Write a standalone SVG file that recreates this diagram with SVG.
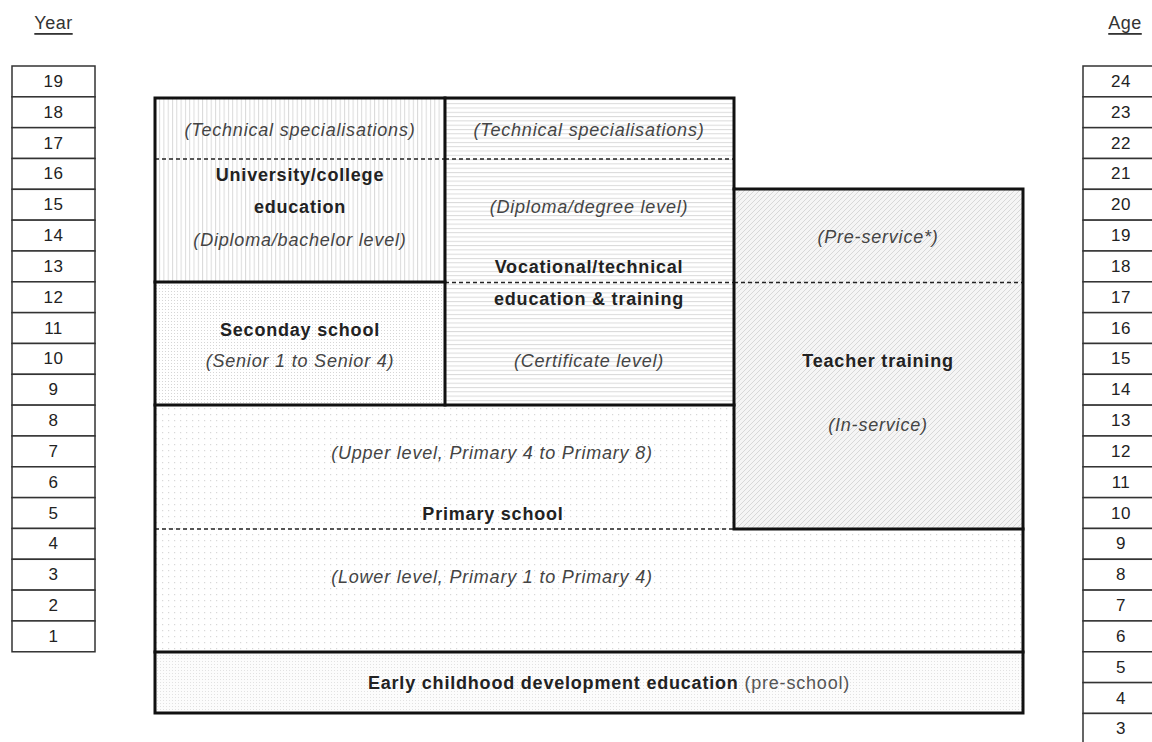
<svg xmlns="http://www.w3.org/2000/svg" width="1152" height="742" viewBox="0 0 1152 742">
<defs>
<pattern id="vl" width="4.3" height="4" patternUnits="userSpaceOnUse"><rect width="4.3" height="4" fill="#fff"/><line x1="0.5" y1="0" x2="0.5" y2="4" stroke="#dadada" stroke-width="1"/></pattern>
<pattern id="hl" width="4" height="4.3" patternUnits="userSpaceOnUse"><rect width="4" height="4.3" fill="#fff"/><line x1="0" y1="0.5" x2="4" y2="0.5" stroke="#dadada" stroke-width="1"/></pattern>
<pattern id="dg" width="5" height="5" patternUnits="userSpaceOnUse"><rect width="5" height="5" fill="#f5f5f5"/><path d="M0 5 L5 0 M-1 1 L1 -1 M4 6 L6 4" stroke="#d8d8d8" stroke-width="1"/></pattern>
<pattern id="ds" width="3" height="3" patternUnits="userSpaceOnUse"><rect width="3" height="3" fill="#fff"/><rect x="0" y="0" width="1" height="1" fill="#d6d6d6"/></pattern>
<pattern id="dp" width="6" height="6" patternUnits="userSpaceOnUse"><rect width="6" height="6" fill="#fff"/><rect x="0" y="0" width="1.2" height="1.2" fill="#d8d8d8"/></pattern>
<pattern id="de" width="3" height="3" patternUnits="userSpaceOnUse"><rect width="3" height="3" fill="#fcfcfc"/><rect x="1" y="1" width="1" height="1" fill="#e2e2e2"/></pattern>
</defs>
<style>
text{font-family:"Liberation Sans",Arial,sans-serif;font-size:18px;letter-spacing:0.8px;text-anchor:middle;dominant-baseline:central}
.b{font-weight:bold;fill:#222}
.i{font-style:italic;fill:#444}
.r{fill:#555}
.n{fill:#222;font-size:17px;letter-spacing:0.5px}
.cell{fill:#fff;stroke:#333;stroke-width:1.5}
.edge{stroke:#111;stroke-width:3;fill:none;stroke-linecap:square}
.dash{stroke:#222;stroke-width:1.5;stroke-dasharray:4 3;fill:none}
.hd{fill:#333;text-decoration:underline;font-size:18px;letter-spacing:0.5px}
</style>

<g id="year-scale">
<text class="hd" x="53.5" y="23">Year</text>
<rect class="cell" x="12" y="66" width="83" height="30.83"/><text class="n" x="53.5" y="81.4">19</text>
<rect class="cell" x="12" y="96.83" width="83" height="30.83"/><text class="n" x="53.5" y="112.2">18</text>
<rect class="cell" x="12" y="127.66" width="83" height="30.83"/><text class="n" x="53.5" y="143.1">17</text>
<rect class="cell" x="12" y="158.49" width="83" height="30.83"/><text class="n" x="53.5" y="173.9">16</text>
<rect class="cell" x="12" y="189.32" width="83" height="30.83"/><text class="n" x="53.5" y="204.7">15</text>
<rect class="cell" x="12" y="220.15" width="83" height="30.83"/><text class="n" x="53.5" y="235.6">14</text>
<rect class="cell" x="12" y="250.98" width="83" height="30.83"/><text class="n" x="53.5" y="266.4">13</text>
<rect class="cell" x="12" y="281.81" width="83" height="30.83"/><text class="n" x="53.5" y="297.2">12</text>
<rect class="cell" x="12" y="312.64" width="83" height="30.83"/><text class="n" x="53.5" y="328.1">11</text>
<rect class="cell" x="12" y="343.47" width="83" height="30.83"/><text class="n" x="53.5" y="358.9">10</text>
<rect class="cell" x="12" y="374.3" width="83" height="30.83"/><text class="n" x="53.5" y="389.7">9</text>
<rect class="cell" x="12" y="405.13" width="83" height="30.83"/><text class="n" x="53.5" y="420.5">8</text>
<rect class="cell" x="12" y="435.96" width="83" height="30.83"/><text class="n" x="53.5" y="451.4">7</text>
<rect class="cell" x="12" y="466.79" width="83" height="30.83"/><text class="n" x="53.5" y="482.2">6</text>
<rect class="cell" x="12" y="497.62" width="83" height="30.83"/><text class="n" x="53.5" y="513">5</text>
<rect class="cell" x="12" y="528.45" width="83" height="30.83"/><text class="n" x="53.5" y="543.9">4</text>
<rect class="cell" x="12" y="559.28" width="83" height="30.83"/><text class="n" x="53.5" y="574.7">3</text>
<rect class="cell" x="12" y="590.11" width="83" height="30.83"/><text class="n" x="53.5" y="605.5">2</text>
<rect class="cell" x="12" y="620.94" width="83" height="30.83"/><text class="n" x="53.5" y="636.4">1</text>
</g>

<g id="age-scale">
<text class="hd" x="1125" y="23">Age</text>
<rect class="cell" x="1083" y="66" width="80" height="30.83"/><text class="n" x="1121" y="81.4">24</text>
<rect class="cell" x="1083" y="96.83" width="80" height="30.83"/><text class="n" x="1121" y="112.2">23</text>
<rect class="cell" x="1083" y="127.66" width="80" height="30.83"/><text class="n" x="1121" y="143.1">22</text>
<rect class="cell" x="1083" y="158.49" width="80" height="30.83"/><text class="n" x="1121" y="173.9">21</text>
<rect class="cell" x="1083" y="189.32" width="80" height="30.83"/><text class="n" x="1121" y="204.7">20</text>
<rect class="cell" x="1083" y="220.15" width="80" height="30.83"/><text class="n" x="1121" y="235.6">19</text>
<rect class="cell" x="1083" y="250.98" width="80" height="30.83"/><text class="n" x="1121" y="266.4">18</text>
<rect class="cell" x="1083" y="281.81" width="80" height="30.83"/><text class="n" x="1121" y="297.2">17</text>
<rect class="cell" x="1083" y="312.64" width="80" height="30.83"/><text class="n" x="1121" y="328.1">16</text>
<rect class="cell" x="1083" y="343.47" width="80" height="30.83"/><text class="n" x="1121" y="358.9">15</text>
<rect class="cell" x="1083" y="374.3" width="80" height="30.83"/><text class="n" x="1121" y="389.7">14</text>
<rect class="cell" x="1083" y="405.13" width="80" height="30.83"/><text class="n" x="1121" y="420.5">13</text>
<rect class="cell" x="1083" y="435.96" width="80" height="30.83"/><text class="n" x="1121" y="451.4">12</text>
<rect class="cell" x="1083" y="466.79" width="80" height="30.83"/><text class="n" x="1121" y="482.2">11</text>
<rect class="cell" x="1083" y="497.62" width="80" height="30.83"/><text class="n" x="1121" y="513">10</text>
<rect class="cell" x="1083" y="528.45" width="80" height="30.83"/><text class="n" x="1121" y="543.9">9</text>
<rect class="cell" x="1083" y="559.28" width="80" height="30.83"/><text class="n" x="1121" y="574.7">8</text>
<rect class="cell" x="1083" y="590.11" width="80" height="30.83"/><text class="n" x="1121" y="605.5">7</text>
<rect class="cell" x="1083" y="620.94" width="80" height="30.83"/><text class="n" x="1121" y="636.4">6</text>
<rect class="cell" x="1083" y="651.77" width="80" height="30.83"/><text class="n" x="1121" y="667.2">5</text>
<rect class="cell" x="1083" y="682.6" width="80" height="30.83"/><text class="n" x="1121" y="698">4</text>
<rect class="cell" x="1083" y="713.43" width="80" height="40"/><text class="n" x="1121" y="728.8">3</text>
</g>

<g id="university">
<rect x="155" y="98" width="290" height="184" fill="url(#vl)"/>
<line class="dash" x1="155" y1="159" x2="445" y2="159"/>
<text class="i" x="300" y="130">(Technical specialisations)</text>
<text class="b" x="300" y="175">University/college</text>
<text class="b" x="300" y="207">education</text>
<text class="i" x="300" y="240">(Diploma/bachelor level)</text>
</g>

<g id="vocational">
<rect x="445" y="98" width="289" height="307" fill="url(#hl)"/>
<line class="dash" x1="445" y1="159" x2="734" y2="159"/>
<line class="dash" x1="445" y1="282.5" x2="734" y2="282.5"/>
<text class="i" x="589" y="130">(Technical specialisations)</text>
<text class="i" x="589" y="207">(Diploma/degree level)</text>
<text class="b" x="589" y="267">Vocational/technical</text>
<text class="b" x="589" y="299">education &amp; training</text>
<text class="i" x="589" y="361">(Certificate level)</text>
</g>

<g id="teacher">
<rect x="734" y="189" width="289" height="340" fill="url(#dg)"/>
<line class="dash" x1="734" y1="282.5" x2="1023" y2="282.5"/>
<text class="i" x="878" y="237">(Pre-service*)</text>
<text class="b" x="878" y="361">Teacher training</text>
<text class="i" x="878" y="425">(In-service)</text>
</g>

<g id="secondary">
<rect x="155" y="282" width="290" height="123" fill="url(#ds)"/>
<text class="b" x="300" y="330">Seconday school</text>
<text class="i" x="300" y="361">(Senior 1 to Senior 4)</text>
</g>

<g id="primary">
<path d="M155 405 H734 V529 H1023 V652 H155 Z" fill="url(#dp)"/>
<line class="dash" x1="155" y1="529" x2="734" y2="529"/>
<text class="i" x="492" y="453">(Upper level, Primary 4 to Primary 8)</text>
<text class="b" x="493" y="514">Primary school</text>
<text class="i" x="492" y="577">(Lower level, Primary 1 to Primary 4)</text>
</g>

<g id="ecd">
<rect x="155" y="652" width="868" height="61" fill="url(#de)"/>
<text x="609" y="683"><tspan class="b">Early childhood development education</tspan><tspan class="r"> (pre-school)</tspan></text>
</g>

<g id="borders">
<path class="edge" d="M155 98 H734 V189 H1023 V713 H155 Z"/>
<path class="edge" d="M445 98 V405"/>
<path class="edge" d="M734 189 V529 H1023"/>
<path class="edge" d="M155 282 H445"/>
<path class="edge" d="M155 405 H734"/>
<path class="edge" d="M155 652 H1023"/>
</g>
</svg>
